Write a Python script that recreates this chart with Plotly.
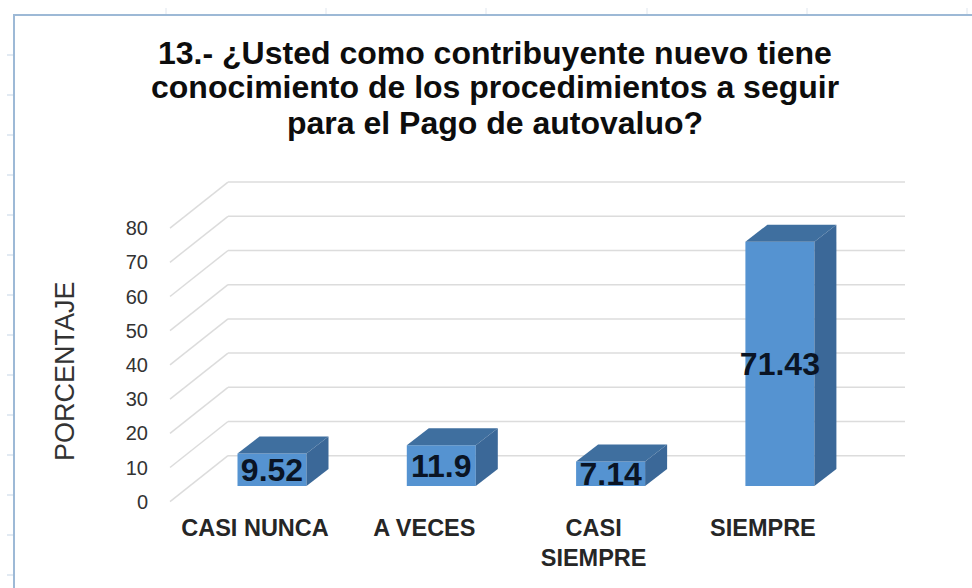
import plotly.graph_objects as go

categories = ['CASI NUNCA', 'A VECES', 'CASI<br>SIEMPRE', 'SIEMPRE']
values = [9.52, 11.9, 7.14, 71.43]
labels = ['9.52', '11.9', '7.14', '71.43']
y_ticks = [0, 10, 20, 30, 40, 50, 60, 70, 80]
title_lines = ['13.- ¿Usted como contribuyente nuevo tiene',
               'conocimiento de los procedimientos a seguir',
               'para el Pago de autovaluo?']
y_title = 'PORCENTAJE'

W, H = 972, 588
L, B = 149, 77
PX_X = 169.3   # px per category
PX_Y = 3.42    # px per percent
X0 = 255       # px of first category on the front plane
Y0 = 501.7     # px of value 0 on the front plane

FRONT = '#5593d1'
TOP = '#3f6f9f'
SIDE = '#3b6898'
GRID = '#dcdcdc'
FRAME = '#9db9d6'

bar_x = [i + 17 / PX_X for i in range(len(values))]
bar_base = 15.7 / PX_Y
half = 34.5 / PX_X
dx, dy = 22 / PX_X, 17 / PX_Y


def px(x):
    return (x - L) / (W - L)


def py(y):
    return (H - B - y) / (H - B)


shapes = []
# back wall and left wall gridlines
wall_x, wall_dy = 58 / PX_X, 46 / PX_Y
left = (170 - X0) / PX_X
right = (905 - X0) / PX_X
for t in y_ticks:
    shapes.append(dict(type='line', layer='below', xref='x', yref='y', x0=left, y0=t,
                       x1=left + wall_x, y1=t + wall_dy, line=dict(color=GRID, width=1.5)))
    shapes.append(dict(type='line', layer='below', xref='x', yref='y', x0=left + wall_x, y0=t + wall_dy,
                       x1=right, y1=t + wall_dy, line=dict(color=GRID, width=1.5)))

# sheet frame behind the chart
shapes.append(dict(type='line', xref='paper', yref='paper', x0=px(14), y0=py(15), x1=px(972), y1=py(15),
                   line=dict(color=FRAME, width=2)))
shapes.append(dict(type='line', xref='paper', yref='paper', x0=px(14), y0=py(14), x1=px(14), y1=py(588),
                   line=dict(color=FRAME, width=2)))
for tx in [166, 326, 486, 647, 807, 967]:
    shapes.append(dict(type='line', xref='paper', yref='paper', x0=px(tx), y0=py(8), x1=px(tx), y1=py(14),
                       line=dict(color='#dfe6ee', width=1)))
for ty in [55, 95, 135, 175, 215, 255, 295, 335, 375, 415, 455, 495, 535, 575]:
    shapes.append(dict(type='line', xref='paper', yref='paper', x0=px(7), y0=py(ty), x1=px(13), y1=py(ty),
                       line=dict(color='#c5d5e6', width=1)))

fig = go.Figure()
fig.add_trace(go.Bar(x=bar_x, y=values, base=bar_base, width=2 * half, marker=dict(color=FRONT, line=dict(width=0))))

for x, v in zip(bar_x, values):
    top = bar_base + v
    fig.add_trace(go.Scatter(x=[x - half, x + half, x + half + dx, x - half + dx, x - half],
                             y=[top, top, top + dy, top + dy, top],
                             mode='lines', fill='toself', fillcolor=TOP, line=dict(width=0)))
    fig.add_trace(go.Scatter(x=[x + half, x + half + dx, x + half + dx, x + half, x + half],
                             y=[bar_base, bar_base + dy, top + dy, top, bar_base],
                             mode='lines', fill='toself', fillcolor=SIDE, line=dict(width=0)))

fig.add_trace(go.Scatter(x=bar_x, y=[bar_base + v / 2 - 0.9 for v in values], mode='text', text=labels,
                         textposition='middle center', cliponaxis=False,
                         textfont=dict(family='Liberation Sans', size=32, color='#0a1424', weight='bold')))

annotations = []
for line, ty in zip(title_lines, [53, 87, 123]):
    annotations.append(dict(text=line, xref='paper', yref='paper', x=px(495), y=py(ty), showarrow=False,
                            xanchor='center', yanchor='middle',
                            font=dict(family='Liberation Sans', size=32, color='#0d0d0d', weight='bold')))
annotations.append(dict(text=y_title, xref='paper', yref='paper', x=px(65), y=py(371), showarrow=False,
                        textangle=-90, xanchor='center', yanchor='middle',
                        font=dict(family='Liberation Sans', size=27, color='#333333')))

fig.update_layout(
    width=W, height=H, margin=dict(l=L, r=0, t=0, b=B), showlegend=False, barmode='overlay',
    paper_bgcolor='white', plot_bgcolor='white', shapes=shapes, annotations=annotations,
    font=dict(family='Liberation Sans', color='#262626'),
)
fig.update_xaxes(range=[(L - X0) / PX_X, (W - X0) / PX_X], tickvals=list(range(len(categories))), ticktext=categories,
                 showgrid=False, zeroline=False, showline=False, ticks='',
                 tickfont=dict(size=23.5, color='#262626', weight='bold'))
fig.update_yaxes(range=[(Y0 - (H - B)) / PX_Y, Y0 / PX_Y], tickvals=y_ticks, showgrid=False, zeroline=False,
                 showline=False, ticks='', tickfont=dict(size=20, color='#333333'))

fig.write_html('out.html', config=dict(displayModeBar=False), post_script="document.body.style.margin='0';")
